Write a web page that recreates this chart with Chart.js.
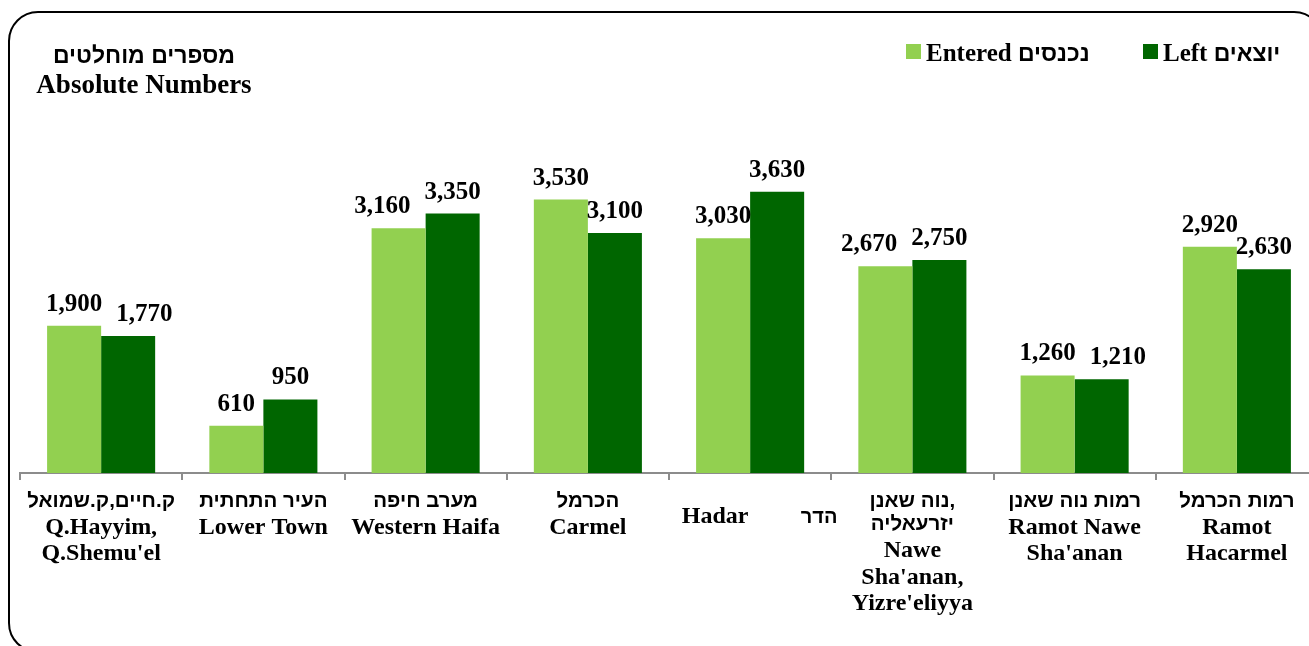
<!DOCTYPE html>
<html>
<head>
<meta charset="utf-8">
<script src="https://cdn.jsdelivr.net/npm/chart.js@4.4.0/dist/chart.umd.min.js"></script>
<style>
  html, body { margin: 0; padding: 0; width: 1309px; height: 646px; overflow: hidden; background: #fff; }
  #frame { position: absolute; left: 8px; top: 11px; width: 1316px; height: 642px; box-sizing: border-box;
           border: 2px solid #000; border-radius: 30px; }
  #c { position: absolute; left: 0; top: 0; }
</style>
</head>
<body>
<div id="frame"></div>
<canvas id="c" width="1340" height="646"></canvas>
<script>
// ---- data ----
const categoriesHe = [
  ['ק.חיים,ק.שמואל'],
  ['העיר התחתית'],
  ['מערב חיפה'],
  ['הכרמל'],
  ['הדר'],
  ['נוה שאנן,', 'יזרעאליה'],
  ['רמות נוה שאנן'],
  ['רמות הכרמל']
];
const categoriesEn = [
  ['Q.Hayyim,', "Q.Shemu'el"],
  ['Lower Town'],
  ['Western Haifa'],
  ['Carmel'],
  ['Hadar'],
  ['Nawe', "Sha'anan,", "Yizre'eliyya"],
  ['Ramot Nawe', "Sha'anan"],
  ['Ramot', 'Hacarmel']
];
const enteredValues = [1900, 610, 3160, 3530, 3030, 2670, 1260, 2920];
const leftValues    = [1770, 950, 3350, 3100, 3630, 2750, 1210, 2630];
const seriesEn = ['Entered', 'Left'];
const seriesHe = ['נכנסים', 'יוצאים'];
const titleHe = 'מספרים מוחלטים';
const titleEn = 'Absolute Numbers';

const COLORS = ['#92D050', '#006600'];
const SERIF = "'Liberation Serif', 'Times New Roman', serif";
const SANS = "'Liberation Sans', 'DejaVu Sans', sans-serif";

const textPlugin = {
  id: 'texts',
  afterDatasetsDraw(chart) {
    const ctx = chart.ctx;
    ctx.save();
    ctx.fillStyle = '#000';
    ctx.direction = 'ltr';
    // value labels, with simple overlap avoidance inside each group
    ctx.textAlign = 'center';
    ctx.textBaseline = 'alphabetic';
    ctx.font = 'bold 25px ' + SERIF;
    const m0 = chart.getDatasetMeta(0), m1 = chart.getDatasetMeta(1);
    const d0 = chart.data.datasets[0].data, d1 = chart.data.datasets[1].data;
    const H = 18, GAP = 14;
    for (let i = 0; i < d0.length; i++) {
      const a = { t: d0[i].toLocaleString('en-US'), x: m0.data[i].x, y: m0.data[i].y - 15 };
      const b = { t: d1[i].toLocaleString('en-US'), x: m1.data[i].x, y: m1.data[i].y - 15 };
      const wa = ctx.measureText(a.t).width, wb = ctx.measureText(b.t).width;
      const vOverlap = Math.abs(a.y - b.y) < H;
      const need = (wa + wb) / 2 + GAP - (b.x - a.x);
      if (vOverlap && need > 0) {
        if (d0[i] < d1[i]) a.x -= need; else b.x += need;
      }
      ctx.fillText(a.t, a.x, a.y);
      ctx.fillText(b.t, b.x, b.y);
    }
    // category labels
    const xs = chart.scales.x;
    const y0 = chart.chartArea.bottom + 28;
    const step = 26.5;
    for (let i = 0; i < categoriesEn.length; i++) {
      const cx = xs.getPixelForValue(i);
      const he = categoriesHe[i], en = categoriesEn[i];
      ctx.textBaseline = 'middle';
      ctx.textAlign = 'center';
      if (he.length === 1 && en.length === 1 && en[0] === 'Hadar') {
        ctx.font = 'bold 24px ' + SERIF;
        ctx.fillText(en[0], cx - 35, y0 + 16);
        ctx.font = 'bold 20px ' + SANS;
        ctx.fillText(he[0], cx + 69, y0 + 16);
        continue;
      }
      let y = y0;
      ctx.font = 'bold 20.5px ' + SANS;
      he.forEach(t => { ctx.fillText(t, cx, y); y += step - 3; });
      y += 3;
      ctx.font = 'bold 24px ' + SERIF;
      en.forEach(t => { ctx.fillText(t, cx, y); y += step; });
    }
    // title
    ctx.textAlign = 'center';
    ctx.textBaseline = 'alphabetic';
    ctx.font = 'bold 23px ' + SANS;
    ctx.fillText(titleHe, 144, 63);
    ctx.font = 'bold 27px ' + SERIF;
    ctx.fillText(titleEn, 144, 93);
    // legend
    const legX = [906, 1143];
    ctx.textAlign = 'left';
    for (let k = 0; k < 2; k++) {
      ctx.fillStyle = COLORS[k];
      ctx.fillRect(legX[k], 44, 15, 15);
      ctx.fillStyle = '#000';
      ctx.font = 'bold 25px ' + SERIF;
      const x1 = legX[k] + 20;
      ctx.fillText(seriesEn[k], x1, 61);
      const w = ctx.measureText(seriesEn[k] + ' ').width;
      ctx.font = 'bold 23px ' + SANS;
      ctx.fillText(seriesHe[k], x1 + w, 61);
    }
    ctx.restore();
  }
};

new Chart(document.getElementById('c'), {
  type: 'bar',
  data: {
    labels: categoriesEn.map(l => l.join(' ')),
    datasets: [
      { label: seriesEn[0] + ' ' + seriesHe[0], data: enteredValues, backgroundColor: COLORS[0],
        categoryPercentage: 0.666, barPercentage: 1.0 },
      { label: seriesEn[1] + ' ' + seriesHe[1], data: leftValues, backgroundColor: COLORS[1],
        categoryPercentage: 0.666, barPercentage: 1.0 }
    ]
  },
  options: {
    responsive: false,
    animation: false,
    layout: { padding: { left: 20, right: 22, top: 109, bottom: 166 } },
    plugins: { legend: { display: false }, tooltip: { enabled: false }, title: { display: false } },
    scales: {
      x: {
        offset: true,
        grid: { display: true, drawOnChartArea: false, drawTicks: true, tickLength: 7, color: '#8c8c8c', lineWidth: 2 },
        border: { display: true, color: '#8c8c8c', width: 2 },
        ticks: { display: false }
      },
      y: { display: false, min: 0, max: 4700 }
    }
  },
  plugins: [textPlugin]
});
</script>
</body>
</html>
